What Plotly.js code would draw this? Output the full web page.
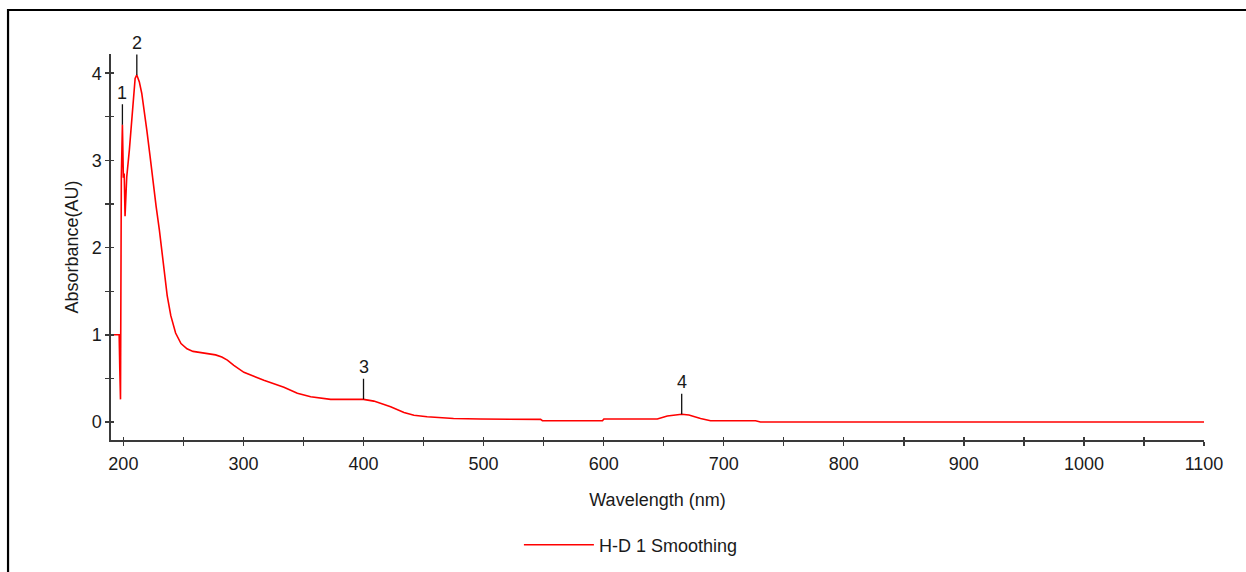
<!DOCTYPE html>
<html>
<head>
<meta charset="utf-8">
<script src="https://cdn.plot.ly/plotly-3.0.1.min.js"></script>
<style>html,body{margin:0;padding:0;background:#fff;}#chart{width:1246px;height:572px;}</style>
</head>
<body>
<div id="chart"></div>
<script>
// Spectrum data
const wavelength = [190, 196.5, 197.0, 197.6, 198.3, 199.2, 200.0, 200.7, 201.4, 202.0, 202.8, 205.0, 207.0, 208.3, 209.8, 211.2, 213.3, 215.3, 217.3, 219.5, 222.3, 225.0, 227.3, 230.0, 232.3, 234.2, 236.5, 239.5, 243.5, 248.0, 253.0, 258.0, 267.0, 276.8, 282.0, 286.6, 292.0, 300.4, 317.0, 333.7, 344.9, 356.0, 372.6, 400.0, 408.6, 422.6, 433.7, 442.0, 453.0, 475.0, 497.5, 547.5, 549.0, 599.0, 600.2, 644.7, 653.0, 665.0, 671.0, 680.7, 689.0, 726.5, 730.6, 1100];
const absorbance = [1.0, 1.0, 0.62, 0.26, 2.81, 3.41, 2.80, 2.85, 2.36, 2.60, 2.81, 3.12, 3.46, 3.65, 3.94, 3.98, 3.90, 3.77, 3.58, 3.35, 3.04, 2.70, 2.47, 2.20, 1.95, 1.72, 1.45, 1.22, 1.02, 0.90, 0.84, 0.81, 0.795, 0.77, 0.745, 0.71, 0.65, 0.57, 0.48, 0.40, 0.33, 0.29, 0.26, 0.26, 0.24, 0.175, 0.11, 0.077, 0.06, 0.04, 0.035, 0.03, 0.015, 0.015, 0.035, 0.035, 0.07, 0.09, 0.08, 0.04, 0.015, 0.015, 0.0, 0.0];
const seriesName = "H-D 1 Smoothing";

// Peak markers
const peakX = [199.2, 211.2, 400.0, 665.0];
const peakY = [3.41, 3.98, 0.26, 0.09];
const peakLabels = ["1", "2", "3", "4"];

// Axis ticks
const xTickVals = [200, 300, 400, 500, 600, 700, 800, 900, 1000, 1100];
const yTickVals = [0, 1, 2, 3, 4];

const xRange = [189.7, 1100];
const yRange = [-0.206, 4.22];
const FONT = "Liberation Sans, Arial, sans-serif";
const TXT = "#1a1a1a";
const AXC = "#3a3a3a";

const traces = [
  {
    x: wavelength, y: absorbance, type: "scatter", mode: "lines",
    name: seriesName, line: {color: "#ff0000", width: 1.6}
  },
  {
    x: [], y: [], type: "scatter", mode: "lines", xaxis: "x2", yaxis: "y2",
    showlegend: false, hoverinfo: "skip"
  }
];

const annotations = peakX.map((px, i) => ({
  x: px, y: peakY[i], xref: "x", yref: "y",
  text: peakLabels[i], showarrow: true, arrowhead: 0, arrowwidth: 1.3,
  arrowcolor: "#111", ax: 0, ay: -32, standoff: 0,
  font: {family: FONT, size: 18, color: TXT}
}));

const layout = {
  width: 1246, height: 572,
  margin: {l: 111, r: 42, t: 54, b: 132, autoexpand: false},
  paper_bgcolor: "#ffffff", plot_bgcolor: "#ffffff",
  font: {family: FONT, size: 18, color: TXT},
  showlegend: true,
  legend: {
    orientation: "h", x: 0.3732, xanchor: "left", y: -0.272, yanchor: "middle",
    font: {family: FONT, size: 18, color: TXT}, itemwidth: 70,
    bgcolor: "rgba(0,0,0,0)"
  },
  xaxis: {
    range: xRange, showgrid: false, zeroline: false,
    showline: true, linecolor: AXC, linewidth: 1.6,
    tickvals: xTickVals, ticks: "outside", ticklen: 4, tickwidth: 1.4, tickcolor: AXC,
    minor: {dtick: 50, tick0: 200, ticks: "outside", ticklen: 4, tickwidth: 1.4, tickcolor: AXC, showgrid: false},
    tickfont: {family: FONT, size: 18, color: TXT}, ticklabelstandoff: 3,
    title: {text: "Wavelength (nm)", font: {family: FONT, size: 18, color: TXT}, standoff: 20},
    fixedrange: true
  },
  yaxis: {
    range: yRange, showgrid: false, zeroline: false,
    showline: true, linecolor: AXC, linewidth: 1.6,
    tickvals: yTickVals, ticks: "outside", ticklen: 4, tickwidth: 1.4, tickcolor: AXC,
    minor: {dtick: 0.5, tick0: 0, ticks: "outside", ticklen: 4, tickwidth: 1.4, tickcolor: AXC, showgrid: false},
    tickfont: {family: FONT, size: 18, color: TXT},
    title: {text: "Absorbance(AU)", font: {family: FONT, size: 18, color: TXT}, standoff: 8},
    fixedrange: true
  },
  xaxis2: {
    overlaying: "x", anchor: "y2", side: "bottom", range: xRange,
    showgrid: false, zeroline: false, showline: false, showticklabels: false,
    tickvals: xTickVals, ticks: "inside", ticklen: 3, tickwidth: 1.4, tickcolor: AXC,
    minor: {dtick: 50, tick0: 200, ticks: "inside", ticklen: 3, tickwidth: 1.4, tickcolor: AXC, showgrid: false},
    fixedrange: true
  },
  yaxis2: {
    overlaying: "y", anchor: "x2", side: "left", range: yRange,
    showgrid: false, zeroline: false, showline: false, showticklabels: false,
    tickvals: yTickVals, ticks: "inside", ticklen: 3, tickwidth: 1.4, tickcolor: AXC,
    minor: {dtick: 0.5, tick0: 0, ticks: "inside", ticklen: 3, tickwidth: 1.4, tickcolor: AXC, showgrid: false},
    fixedrange: true
  },
  annotations: annotations,
  shapes: [
    {type: "rect", xref: "paper", yref: "paper",
     x0: -0.0942, x1: 1.2, y0: -0.5, y1: 1.114,
     line: {color: "#000", width: 2.2}, fillcolor: "rgba(0,0,0,0)", layer: "below"}
  ]
};

Plotly.newPlot("chart", traces, layout, {staticPlot: true, displayModeBar: false});
</script>
</body>
</html>
